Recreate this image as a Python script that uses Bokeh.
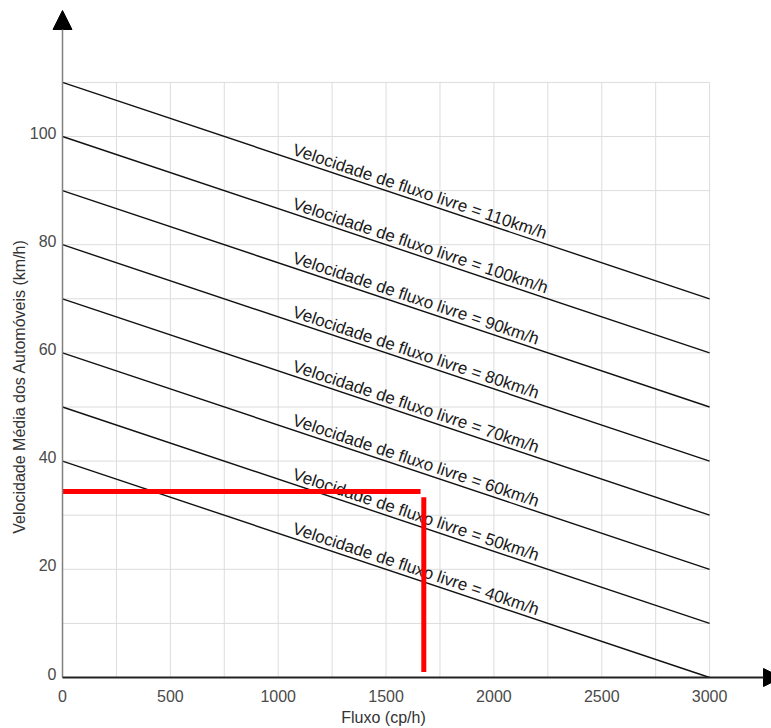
import math
from bokeh.plotting import figure
from bokeh.models import Range1d, Arrow, NormalHead, ColumnDataSource
from bokeh.core.properties import value
from bokeh.embed import file_html
from bokeh.resources import INLINE

# ---- data ----
free_flow_speeds = [110, 100, 90, 80, 70, 60, 50, 40]      # km/h, speed at flow 0
speed_at_3000 = [70, 60, 50, 40, 30, 20, 10, 0]            # km/h, speed at flow 3000
flow_start = 0
flow_end = 3000
line_labels = ["Velocidade de fluxo livre = %dkm/h" % v for v in free_flow_speeds]

x_ticks = [0, 500, 1000, 1500, 2000, 2500, 3000]
x_tick_labels = ["0", "500", "1000", "1500", "2000", "2500", "3000"]
y_ticks = [0, 20, 40, 60, 80, 100]
y_tick_labels = ["0", "20", "40", "60", "80", "100"]
x_grid = [250, 500, 750, 1000, 1250, 1500, 1750, 2000, 2250, 2500, 2750, 3000]
y_grid = [10, 20, 30, 40, 50, 60, 70, 80, 90, 100, 110]

reading_speed = 34.4      # red horizontal reading line (km/h)
reading_flow = 1675       # red vertical reading line (cp/h)
reading_flow_h_end = 1660
reading_speed_v_end = 33.3
reading_speed_v_start = 1.0

x_title = "Fluxo (cp/h)"
y_title = "Velocidade Média dos Automóveis (km/h)"

FONT = "Liberation Sans"

# ---- layout: whole canvas is the plotting frame ----
W, H = 771, 728
PX0, PY0 = 62.0, 677.0        # canvas pixel of the origin
SX, SY = 0.2157, 5.41         # pixels per data unit


def dx(px):
    return (px - PX0) / SX


def dy(py):
    return (PY0 - py) / SY


p = figure(width=W, height=H, output_backend="svg", toolbar_location=None,
           x_range=Range1d(dx(0), dx(W)), y_range=Range1d(dy(H), dy(0)),
           x_axis_location=None, y_axis_location=None,
           min_border=0, min_border_left=0, min_border_right=0,
           min_border_top=0, min_border_bottom=0)
p.outline_line_color = None
p.xgrid.visible = False
p.ygrid.visible = False
p.background_fill_color = "white"

# grid (bounded to the data area)
p.segment(x0=x_grid, y0=[0] * len(x_grid), x1=x_grid, y1=[y_grid[-1]] * len(x_grid),
          line_color="#dcdcdc", line_width=1)
p.segment(x0=[0] * len(y_grid), y0=y_grid, x1=[x_grid[-1]] * len(y_grid), y1=y_grid,
          line_color="#dcdcdc", line_width=1)

# speed-flow lines
src = ColumnDataSource(dict(x0=[flow_start] * len(free_flow_speeds), y0=free_flow_speeds,
                            x1=[flow_end] * len(free_flow_speeds), y1=speed_at_3000))
p.segment(x0="x0", y0="y0", x1="x1", y1="y1", source=src, line_color="#111111", line_width=1.4)

# labels along lines
slope_px = (free_flow_speeds[0] - speed_at_3000[0]) * SY / ((flow_end - flow_start) * SX)
angle = -math.atan(slope_px)
lab_x = 1070
lab_lift = 1.9
lab_y = [a + (b - a) * (lab_x - flow_start) / (flow_end - flow_start) + lab_lift
         for a, b in zip(free_flow_speeds, speed_at_3000)]
p.text(x=[lab_x] * len(lab_y), y=lab_y, text=line_labels, angle=angle,
       text_font=value(FONT), text_font_size="17px", text_color="#1a1a1a",
       text_baseline="alphabetic", text_align="left")

# red reading lines
p.segment(x0=[0], y0=[reading_speed], x1=[reading_flow_h_end], y1=[reading_speed],
          line_color="#ff0000", line_width=5)
p.segment(x0=[reading_flow], y0=[reading_speed_v_start], x1=[reading_flow], y1=[reading_speed_v_end],
          line_color="#ff0000", line_width=5)

# axes with arrow heads
p.add_layout(Arrow(x_start=0, y_start=0, x_end=0, y_end=dy(10), line_color="#808080", line_width=1.5,
                   end=NormalHead(size=19, fill_color="black", line_color="black")))
p.add_layout(Arrow(x_start=0, y_start=0, x_end=dx(781), y_end=0, line_color="#222222", line_width=2,
                   end=NormalHead(size=18, fill_color="black", line_color="black")))

# tick labels
p.text(x=x_ticks, y=[dy(695)] * len(x_ticks), text=x_tick_labels,
       text_font=value(FONT), text_font_size="16px", text_color="#4a4a4a",
       text_align="center", text_baseline="middle")
p.text(x=[dx(56)] * len(y_ticks), y=[t + 4 / SY for t in y_ticks], text=y_tick_labels,
       text_font=value(FONT), text_font_size="16px", text_color="#4a4a4a",
       text_align="right", text_baseline="middle")

# axis titles
p.text(x=[dx(19)], y=[dy(386)], text=[y_title], angle=math.pi / 2,
       text_font=value(FONT), text_font_size="16px", text_color="#333333",
       text_align="center", text_baseline="middle")
p.text(x=[dx(383)], y=[dy(717)], text=[x_title],
       text_font=value(FONT), text_font_size="16px", text_color="#333333",
       text_align="center", text_baseline="middle")

open("out.html", "w").write(file_html(p, INLINE))
